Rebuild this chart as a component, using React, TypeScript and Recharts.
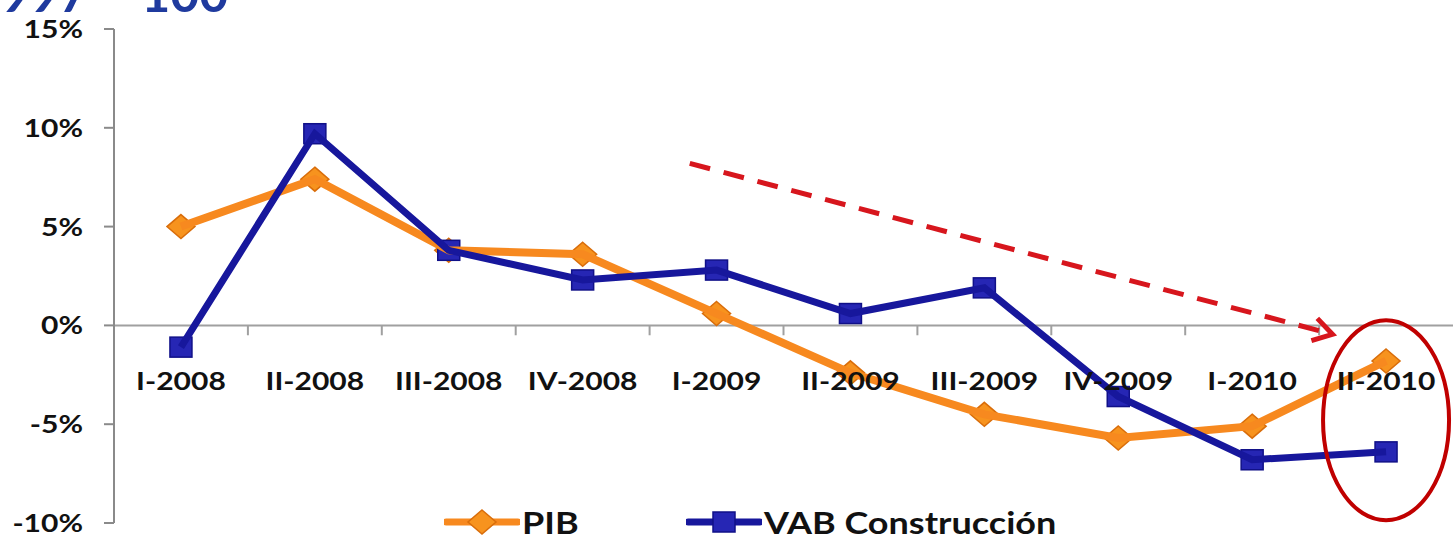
import React from "react";
import {
  LineChart,
  Line,
  XAxis,
  YAxis,
  ReferenceLine,
  ReferenceDot,
} from "recharts";

// Quarters on the x axis
const quarters = [
  "I-2008",
  "II-2008",
  "III-2008",
  "IV-2008",
  "I-2009",
  "II-2009",
  "III-2009",
  "IV-2009",
  "I-2010",
  "II-2010",
];

// Year-on-year growth, %
const pibValues = [5.0, 7.4, 3.8, 3.6, 0.6, -2.4, -4.5, -5.7, -5.1, -1.8];
const vabValues = [-1.1, 9.7, 3.8, 2.3, 2.8, 0.6, 1.9, -3.6, -6.8, -6.4];

const yTicks = [-10, -5, 0, 5, 10, 15];
const seriesNames = { pib: "PIB", vab: "VAB Construcción" };

// trend arrow (from / to, in axis units) and the highlighted last quarter
const trendFrom = { x: 3.8, y: 8.2 };
const trendTo = { x: 8.6, y: -0.45 };
const highlight = { x: 9, y: -4.8 };

const data = quarters.map((q, i) => ({
  idx: i,
  name: q,
  pib: pibValues[i],
  vab: vabValues[i],
}));

const boundaries = quarters.slice(1).map((_, i) => i + 0.5);

const ORANGE = "#F7891F";
const BLUE = "#17179C";
const FONT = "Lato, 'Open Sans', sans-serif";

const Diamond = ({ cx, cy }: any) => {
  if (cx == null || cy == null) return null;
  return (
    <polygon
      points={`${cx},${cy - 12} ${cx + 14},${cy} ${cx},${cy + 12} ${cx - 14},${cy}`}
      fill="#F7931E"
      stroke="#D96D0A"
      strokeWidth={1.5}
    />
  );
};

const Square = ({ cx, cy }: any) => {
  if (cx == null || cy == null) return null;
  return (
    <rect
      x={cx - 11}
      y={cy - 10}
      width={22}
      height={20}
      fill="#2626B4"
      stroke="#101088"
      strokeWidth={1.5}
    />
  );
};

const XTick = ({ x, y, payload }: any) => (
  <text
    transform={`translate(${x},${y - 133}) scale(1.2,1)`}
    textAnchor="middle"
    fontFamily={FONT}
    fontWeight={700}
    fontSize={25}
    fill="#111"
  >
    {quarters[payload.value]}
  </text>
);

const YTick = ({ x, y, payload }: any) => (
  <text
    transform={`translate(${x},${y}) scale(1.2,1)`}
    textAnchor="end"
    dy="0.36em"
    fontFamily={FONT}
    fontWeight={700}
    fontSize={25}
    fill="#111"
  >
    {`${payload.value}%`}
  </text>
);

const TrendArrow = (p: any) => {
  const { x1, y1, x2, y2 } = p;
  const a = Math.atan2(y2 - y1, x2 - x1);
  const len = 22;
  const spread = 0.55;
  const ax = x2 - len * Math.cos(a - spread);
  const ay = y2 - len * Math.sin(a - spread);
  const bx = x2 - len * Math.cos(a + spread);
  const by = y2 - len * Math.sin(a + spread);
  return (
    <g>
      <line
        x1={x1}
        y1={y1}
        x2={x2 - 8 * Math.cos(a)}
        y2={y2 - 8 * Math.sin(a)}
        stroke="#D7161D"
        strokeWidth={5}
        strokeDasharray="21 14"
      />
      <polyline
        points={`${ax},${ay} ${x2},${y2} ${bx},${by}`}
        fill="none"
        stroke="#D7161D"
        strokeWidth={5}
      />
    </g>
  );
};

const Ellipse = ({ cx, cy }: any) => (
  <ellipse
    cx={cx}
    cy={cy}
    rx={63}
    ry={100}
    fill="none"
    stroke="#C00000"
    strokeWidth={4}
  />
);

const LegendItem = ({ left, color, marker, label }: any) => (
  <div
    style={{
      position: "absolute",
      left,
      top: 504,
      height: 36,
      display: "flex",
      alignItems: "center",
    }}
  >
    <svg width={76} height={36}>
      <line x1={2} y1={18} x2={74} y2={18} stroke={color} strokeWidth={7} strokeLinecap="round" />
      {marker === "diamond" ? <Diamond cx={38} cy={18} /> : <Square cx={38} cy={18} />}
    </svg>
    <span
      style={{
        fontFamily: FONT,
        fontWeight: 700,
        fontSize: 30,
        color: "#111",
        display: "inline-block",
        transform: "scale(1.2,1)",
        transformOrigin: "left center",
        whiteSpace: "nowrap",
        marginLeft: 2,
      }}
    >
      {label}
    </span>
  </div>
);

export default function App() {
  return (
    <div
      style={{
        position: "absolute",
        left: 0,
        top: 0,
        width: 1453,
        height: 539,
        overflow: "hidden",
        background: "#fff",
      }}
    >
      {/* slide title, cut off by the top edge */}
      <svg width={300} height={20} style={{ position: "absolute", left: 0, top: 0 }}>
        <text x={-28} y={12} fontFamily={FONT} fontWeight={700} fontSize={50} fill="#1F3A9E">
          1997<tspan dy={-14}> = </tspan>
          <tspan dy={14}>100</tspan>
        </text>
      </svg>
      <LineChart
        width={1453}
        height={539}
        data={data}
        margin={{ top: 29, right: 0, left: 0, bottom: 0 }}
      >
        <XAxis
          dataKey="idx"
          type="number"
          domain={[-0.5, 9.5]}
          ticks={quarters.map((_, i) => i)}
          height={16}
          axisLine={false}
          tickLine={false}
          tickSize={0}
          tickMargin={0}
          interval={0}
          tick={<XTick />}
          zIndex={0}
        />
        <YAxis
          type="number"
          domain={[-10, 15]}
          ticks={yTicks}
          width={114}
          axisLine={{ stroke: "#8a8a8a", strokeWidth: 2 }}
          tickLine={{ stroke: "#8a8a8a", strokeWidth: 2 }}
          tickSize={10}
          tickMargin={21}
          tick={<YTick />}
          allowDataOverflow
        />
        <ReferenceLine y={0} stroke="#a0a0a0" strokeWidth={2} />
        {boundaries.map((b) => (
          <ReferenceLine
            key={b}
            segment={[
              { x: b, y: 0 },
              { x: b, y: -0.5 },
            ]}
            stroke="#a0a0a0"
            strokeWidth={2}
          />
        ))}
        <ReferenceLine segment={[trendFrom, trendTo]} shape={<TrendArrow />} />
        <Line
          dataKey="pib"
          name={seriesNames.pib}
          stroke={ORANGE}
          strokeWidth={8}
          dot={<Diamond />}
          activeDot={false}
          isAnimationActive={false}
          zIndex={700}
        />
        <Line
          dataKey="vab"
          name={seriesNames.vab}
          stroke={BLUE}
          strokeWidth={7}
          dot={<Square />}
          activeDot={false}
          isAnimationActive={false}
          zIndex={710}
        />
        <ReferenceDot x={highlight.x} y={highlight.y} shape={<Ellipse />} zIndex={800} />
      </LineChart>
      <LegendItem left={444} color={ORANGE} marker="diamond" label={seriesNames.pib} />
      <LegendItem left={686} color={BLUE} marker="square" label={seriesNames.vab} />
    </div>
  );
}
